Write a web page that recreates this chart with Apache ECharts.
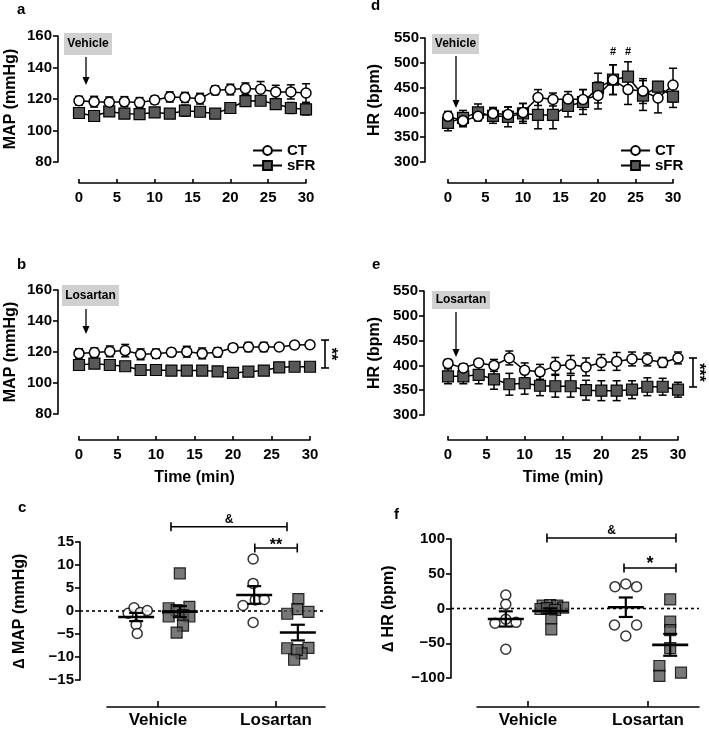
<!DOCTYPE html>
<html><head><meta charset="utf-8">
<script src="https://cdn.jsdelivr.net/npm/echarts@6/dist/echarts.min.js"></script>
<style>html,body{margin:0;padding:0;background:#fff}#c{width:709px;height:732px}</style>
</head><body><div id="c"></div>
<script>
const FONT = '"Liberation Sans", Arial, Helvetica, sans-serif';

// ---- time-course data (time in min) ----
const timeMin = [0,2,4,6,8,10,12,14,16,18,20,22,24,26,28,30];
// a: MAP, vehicle
const mapVehCT     = [118.9,118.3,117.9,118.3,117.7,119.4,121.3,121.0,120.2,125.5,126.0,126.6,126.2,124.5,124.5,123.8];
const mapVehCTsem  = [2.8,3.4,3.4,3.2,3.2,2.5,3.2,3.2,3.4,2.8,3.4,3.6,4.9,4.2,4.5,5.9];
const mapVehSFR    = [111.1,109.2,112.1,110.7,110.4,111.5,110.7,112.6,111.9,110.7,114.3,118.7,118.9,116.8,114.3,113.4];
const mapVehSFRsem = [1.5,1.5,1.5,2,2,2.5,2.5,3.5,3,1.5,1.5,3,3,3,3.5,3.5];
// b: MAP, losartan
const mapLosCT     = [119.1,119.6,120.4,120.9,118.5,118.9,119.8,120.2,119.1,119.8,122.8,123.2,123.2,123.2,124.5,124.7];
const mapLosCTsem  = [3,3,3.5,4,3.5,3,2.5,3.5,3.5,3,2.5,3,3,2,2,2];
const mapLosSFR    = [111.6,112.5,111.6,110.8,108.4,108.4,108.0,108.0,108.0,107.5,106.5,107.3,108.0,110.1,110.5,110.5];
const mapLosSFRsem = [1.5,1.5,1.5,1.5,1.5,1.5,1.5,1.5,1.5,1.5,1.5,1.5,1.5,1.5,1.5,1.5];
// d: HR, vehicle
const hrVehCT      = [392,383,392,398,396,400,430,426,427,426,434,466,446,443,429,455];
const hrVehCTsem   = [10,12,8,12,15,18,16,13,15,20,27,30,30,25,30,34];
const hrVehSFR     = [379,389,400,393,391,398,395,395,413,421,449,466,472,434,452,432];
const hrVehSFRsem  = [16,15,17,15,20,20,28,28,22,25,30,30,30,30,10,22];
// e: HR, losartan
const hrLosCT      = [404,395,405,400,415,390,387,399,402,397,406,408,413,412,406,415];
const hrLosCTsem   = [8,8,6,12,14,15,15,17,18,18,16,18,14,13,10,12];
const hrLosSFR     = [378,378,381,372,362,364,359,358,358,350,349,349,351,357,357,351];
const hrLosSFRsem  = [15,15,18,20,22,22,20,22,22,20,20,20,18,18,17,15];

// ---- change data (c: delta MAP mmHg, f: delta HR bpm) ----
const groups = ['Vehicle','Losartan'];
const dMapVehCT  = [-0.5,0.7,-0.3,0.1,-3.0,-4.9];
const dMapVehSFR = [8.2,0.6,0.2,0.9,-1.2,-0.9,-1.2,-3.2,-4.7];
const dMapLosCT  = [11.3,6.0,1.2,2.4,2.5,-2.5];
const dMapLosSFR = [2.6,0.4,-0.6,-0.2,-8.1,-8.0,-9.2,-8.5,-10.6];
const dHrVehCT   = [19.4,6.0,-21.3,-15.5,-19.9,-58.7];
const dHrVehSFR  = [4,5,4,1.2,-0.7,0.5,-2,-14,-30];
const dHrLosCT   = [31.4,35.3,31.4,-23.7,-23.7,-39.6];
const dHrLosSFR  = [13.2,-19,-31,-57,-82.7,-97,-92.4];
// horizontal spread slots of the dots (in marker widths)
const jMapVehCT  = [-0.75,-0.2,0.4,1.05,0,0.1];
const jMapVehSFR = [0,-1.05,-0.3,0.9,-1.05,0.3,0.9,0.3,-0.3];
const jMapLosCT  = [-0.1,-0.1,-1.05,0.1,0.95,-0.1];
const jMapLosSFR = [0.05,-0.05,-1.0,1.0,-1.0,1.0,0.35,-0.1,-0.35];
const jHrVehCT   = [0,0,-1.0,0,0.95,0];
const jHrVehSFR  = [-0.7,0,0.65,1.2,-0.9,-0.3,0.45,0.1,0.1];
const jHrLosCT   = [-1,0,1,-1.05,1,0];
const jHrLosSFR  = [0,0,0,0,-1,-1,1];

const SLOT = 0.09, GOFF = 0.185;
const BLACK = '#000', SQ = '#585858';

function mean(a){return a.reduce((s,v)=>s+v,0)/a.length;}
function sem(a){const m=mean(a);const v=a.reduce((s,x)=>s+(x-m)*(x-m),0)/(a.length-1);return Math.sqrt(v/a.length);}
const minus = v => String(v).replace('-', '\u2212');

const axisText = {color:BLACK, fontFamily:FONT, fontWeight:'bold', fontSize:15};
const nameText = {color:BLACK, fontFamily:FONT, fontWeight:'bold', fontSize:16};

function timeX(gi, off, name) {
  return {gridIndex:gi, type:'value', min:0, max:30, interval:5, offset:off,
    axisLine:{onZero:false, lineStyle:{color:BLACK, width:1.6}},
    axisTick:{inside:true, length:4, lineStyle:{color:BLACK, width:1.6}},
    axisLabel:Object.assign({margin:7, showMinLabel:true, showMaxLabel:true}, axisText),
    splitLine:{show:false},
    name:name||'', nameLocation:'middle', nameGap:30, nameTextStyle:nameText};
}
function valY(gi, off, min, max, interval, name, gap) {
  return {gridIndex:gi, type:'value', min, max, interval, offset:off,
    axisLine:{show:true, onZero:false, lineStyle:{color:BLACK, width:1.6}},
    axisTick:{show:true, inside:false, length:5, lineStyle:{color:BLACK, width:1.6}},
    axisLabel:Object.assign({margin:6, showMinLabel:true, showMaxLabel:true, formatter:minus}, axisText),
    splitLine:{show:false},
    name, nameLocation:'middle', nameGap:gap, nameTextStyle:nameText};
}
function groupX(gi, off, min, max) {
  return {gridIndex:gi, type:'value', min, max, offset:off,
    axisLine:{onZero:false, lineStyle:{color:BLACK, width:1.6}},
    axisTick:{inside:true, length:6, customValues:[1,2], lineStyle:{color:BLACK, width:1.6}},
    axisLabel:Object.assign({}, axisText, {fontSize:17, margin:5, customValues:[1,2],
      formatter: v => groups[Math.round(v)-1]}),
    splitLine:{show:false}};
}

function lineSeries(name, idx, vals, isCT) {
  return {name, type:'line', xAxisIndex:idx, yAxisIndex:idx, z:isCT?5:4,
    data: timeMin.map((t,i)=>[t, vals[i]]),
    symbol: isCT?'circle':'rect', symbolSize: isCT?10:11, showAllSymbol:true,
    itemStyle: isCT?{color:'#fff', borderColor:BLACK, borderWidth:1.5}
                   :{color:SQ, borderColor:BLACK, borderWidth:1.2},
    lineStyle:{color:BLACK, width:1.5}, emphasis:{disabled:true}};
}
function errSeries(idx, vals, sems) {
  return {type:'custom', xAxisIndex:idx, yAxisIndex:idx, z:2, silent:true,
    data: timeMin.map((t,i)=>[t, vals[i]-sems[i], vals[i]+sems[i]]),
    encode:{x:0, y:[1,2]},
    renderItem:(p, api)=>{
      const x = api.value(0);
      const lo = api.coord([x, api.value(1)]), hi = api.coord([x, api.value(2)]);
      const w = 4, st = {stroke:BLACK, lineWidth:1.5};
      return {type:'group', children:[
        {type:'line', shape:{x1:lo[0],y1:lo[1],x2:hi[0],y2:hi[1]}, style:st},
        {type:'line', shape:{x1:hi[0]-w,y1:hi[1],x2:hi[0]+w,y2:hi[1]}, style:st},
        {type:'line', shape:{x1:lo[0]-w,y1:lo[1],x2:lo[0]+w,y2:lo[1]}, style:st}]};
    }};
}
function dotSeries(name, idx, center, vals, jit, isCT) {
  return {name, type:'scatter', xAxisIndex:idx, yAxisIndex:idx, z:4,
    data: vals.map((v,i)=>[center + jit[i]*SLOT, v]),
    symbol: isCT?'circle':'rect', symbolSize: isCT?10:11,
    itemStyle: isCT?{color:'#fff', borderColor:BLACK, borderWidth:1.5}
                   :{color:SQ, borderColor:BLACK, borderWidth:1.2},
    emphasis:{disabled:true}};
}
function meanSeries(idx, centers, sets) {
  return {type:'custom', xAxisIndex:idx, yAxisIndex:idx, z:6, silent:true,
    data: sets.map((s,i)=>[centers[i], mean(s), sem(s)]),
    encode:{x:0, y:1},
    renderItem:(p, api)=>{
      const c = api.value(0), m = api.value(1), e = api.value(2);
      const pm = api.coord([c, m]), ph = api.coord([c, m+e]), pl = api.coord([c, m-e]);
      const st = {stroke:BLACK, lineWidth:2.2};
      return {type:'group', children:[
        {type:'line', shape:{x1:pm[0]-18,y1:pm[1],x2:pm[0]+18,y2:pm[1]}, style:{stroke:BLACK, lineWidth:2.6}},
        {type:'line', shape:{x1:pl[0],y1:pl[1],x2:ph[0],y2:ph[1]}, style:st},
        {type:'line', shape:{x1:ph[0]-7,y1:ph[1],x2:ph[0]+7,y2:ph[1]}, style:st},
        {type:'line', shape:{x1:pl[0]-7,y1:pl[1],x2:pl[0]+7,y2:pl[1]}, style:st}]};
    }};
}
function zeroSeries(idx, extendLeft) {
  return {type:'custom', xAxisIndex:idx, yAxisIndex:idx, z:3, silent:true,
    data:[[1,0]], encode:{x:0,y:1},
    renderItem:(p, api)=>{
      const cs = p.coordSys, y = api.coord([1,0])[1];
      return {type:'line', shape:{x1:cs.x-extendLeft, y1:y, x2:cs.x+cs.width, y2:y},
        style:{stroke:BLACK, lineWidth:1.6, lineDash:[3,3]}};
    }};
}
function hBracket(idx, x1, x2, y, label, fs, dy) {
  return {type:'custom', xAxisIndex:idx, yAxisIndex:idx, z:6, silent:true, clip:false,
    data:[[x1,x2,y]], encode:{x:[0,1], y:2},
    renderItem:(p, api)=>{
      const a = api.coord([api.value(0), api.value(2)]), b = api.coord([api.value(1), api.value(2)]);
      const st = {stroke:BLACK, lineWidth:1.6};
      return {type:'group', children:[
        {type:'line', shape:{x1:a[0],y1:a[1],x2:b[0],y2:b[1]}, style:st},
        {type:'line', shape:{x1:a[0],y1:a[1]-4.5,x2:a[0],y2:a[1]+4.5}, style:st},
        {type:'line', shape:{x1:b[0],y1:b[1]-4.5,x2:b[0],y2:b[1]+4.5}, style:st},
        {type:'text', x:(a[0]+b[0])/2, y:a[1]+dy, style:{text:label, fill:BLACK,
          font:'bold '+fs+'px '+FONT, align:'center', verticalAlign:'middle'}}]};
    }};
}
function vBracket(idx, x, y1, y2, label, dx) {
  return {type:'custom', xAxisIndex:idx, yAxisIndex:idx, z:6, silent:true, clip:false,
    data:[[x,y1,y2]], encode:{x:0, y:[1,2]},
    renderItem:(p, api)=>{
      const a = api.coord([api.value(0), api.value(1)]), b = api.coord([api.value(0), api.value(2)]);
      const X = a[0] + dx, st = {stroke:BLACK, lineWidth:1.6};
      return {type:'group', children:[
        {type:'line', shape:{x1:X,y1:a[1],x2:X,y2:b[1]}, style:st},
        {type:'line', shape:{x1:X-4,y1:a[1],x2:X+4,y2:a[1]}, style:st},
        {type:'line', shape:{x1:X-4,y1:b[1],x2:X+4,y2:b[1]}, style:st},
        {type:'text', x:X+5, y:(a[1]+b[1])/2, rotation:-Math.PI/2, style:{text:label, fill:BLACK,
          font:'bold 16px '+FONT, align:'center', verticalAlign:'middle'}}]};
    }};
}
function textMarks(idx, pts, label) {
  return {type:'custom', xAxisIndex:idx, yAxisIndex:idx, z:6, silent:true, clip:false,
    data:pts, encode:{x:0,y:1},
    renderItem:(p, api)=>{
      const c = api.coord([api.value(0), api.value(1)]);
      return {type:'text', x:c[0], y:c[1], style:{text:label, fill:BLACK,
        font:'bold 11px '+FONT, align:'center', verticalAlign:'middle'}};
    }};
}

// ---- annotations (letters, treatment boxes, arrows) ----
const graphics = [];
function letter(t, x, baseline) {
  graphics.push({type:'text', x, y:baseline-5, style:{text:t, fill:BLACK,
    font:'bold 15px '+FONT, align:'left', verticalAlign:'middle'}});
}
function box(t, x, y, w, h) {
  graphics.push({type:'rect', shape:{x, y, width:w, height:h}, style:{fill:'#d0d0d0'}});
  graphics.push({type:'text', x:x+w/2, y:y+h/2, style:{text:t, fill:BLACK,
    font:'bold 12px '+FONT, align:'center', verticalAlign:'middle'}});
}
function arrow(x, y1, y2) {
  graphics.push({type:'line', shape:{x1:x, y1:y1, x2:x, y2:y2-6}, style:{stroke:BLACK, lineWidth:1.3}});
  graphics.push({type:'polygon', shape:{points:[[x-3.5,y2-8],[x+3.5,y2-8],[x,y2]]}, style:{fill:BLACK}});
}
letter('a', 17, 15); letter('d', 371, 11); letter('b', 17, 270); letter('e', 372, 270);
letter('c', 18, 513); letter('f', 394, 520);
box('Vehicle', 64, 33, 48, 22); box('Vehicle', 432, 34, 47, 20);
box('Losartan', 62, 285, 57, 21); box('Losartan', 432, 291, 58, 18);
arrow(86, 57, 85); arrow(456, 56, 108); arrow(86, 309, 334); arrow(456, 312, 357);

const legendBase = {orient:'vertical', itemWidth:29, itemHeight:11, itemGap:0, selectedMode:false,
  textStyle:{color:BLACK, fontFamily:FONT, fontWeight:'bold', fontSize:15, lineHeight:15}, padding:0};

const option = {
  animation:false,
  textStyle:{fontFamily:FONT},
  graphic:graphics,
  legend:[Object.assign({data:['CT','sFR'], left:252, top:143}, legendBase),
          Object.assign({data:['CT','sFR'], left:620, top:143}, legendBase)],
  grid:[
    {left:79, top:36, width:227, height:126},   // a
    {left:448, top:38, width:225, height:124},  // d
    {left:79, top:290, width:231, height:124},  // b
    {left:448, top:291, width:230, height:124}, // e
    {left:107, top:542, width:218, height:138}, // c
    {left:477, top:539, width:222, height:139}  // f
  ],
  xAxis:[timeX(0,21), timeX(1,21), timeX(2,26,'Time (min)'), timeX(3,25,'Time (min)'),
         groupX(4,27,0.568,2.415), groupX(5,29,0.575,2.425)],
  yAxis:[valY(0,21,80,160,20,'MAP (mmHg)',39), valY(1,23,300,550,50,'HR (bpm)',42),
         valY(2,21,80,160,20,'MAP (mmHg)',39), valY(3,24,300,550,50,'HR (bpm)',41),
         valY(4,27,-15,15,5,'\u2206 MAP (mmHg)',52), valY(5,26,-100,100,50,'\u2206 HR (bpm)',54)],
  series:[
    lineSeries('CT',0,mapVehCT,true), lineSeries('sFR',0,mapVehSFR,false),
    errSeries(0,mapVehCT,mapVehCTsem), errSeries(0,mapVehSFR,mapVehSFRsem),
    lineSeries('CT',1,hrVehCT,true), lineSeries('sFR',1,hrVehSFR,false),
    errSeries(1,hrVehCT,hrVehCTsem), errSeries(1,hrVehSFR,hrVehSFRsem),
    textMarks(1, [[22,522],[24,522]], '#'),
    lineSeries('CT',2,mapLosCT,true), lineSeries('sFR',2,mapLosSFR,false),
    errSeries(2,mapLosCT,mapLosCTsem), errSeries(2,mapLosSFR,mapLosSFRsem),
    vBracket(2, 30, 127.7, 109.7, '**', 15),
    lineSeries('CT',3,hrLosCT,true), lineSeries('sFR',3,hrLosSFR,false),
    errSeries(3,hrLosCT,hrLosCTsem), errSeries(3,hrLosSFR,hrLosSFRsem),
    vBracket(3, 30, 415, 356.5, '***', 15),
    zeroSeries(4,27),
    dotSeries('c CT',4,1-GOFF,dMapVehCT,jMapVehCT,true), dotSeries('c sFR',4,1+GOFF,dMapVehSFR,jMapVehSFR,false),
    dotSeries('c CT',4,2-GOFF,dMapLosCT,jMapLosCT,true), dotSeries('c sFR',4,2+GOFF,dMapLosSFR,jMapLosSFR,false),
    meanSeries(4,[1-GOFF,1+GOFF,2-GOFF,2+GOFF],[dMapVehCT,dMapVehSFR,dMapLosCT,dMapLosSFR]),
    hBracket(4, 1.11, 2.093, 18.3, '&', 12, -7),
    hBracket(4, 1.82, 2.18, 13.7, '**', 16, -2.5),
    zeroSeries(5,26),
    dotSeries('f CT',5,1-GOFF,dHrVehCT,jHrVehCT,true), dotSeries('f sFR',5,1+GOFF,dHrVehSFR,jHrVehSFR,false),
    dotSeries('f CT',5,2-GOFF,dHrLosCT,jHrLosCT,true), dotSeries('f sFR',5,2+GOFF,dHrLosSFR,jHrLosSFR,false),
    meanSeries(5,[1-GOFF,1+GOFF,2-GOFF,2+GOFF],[dHrVehCT,dHrVehSFR,dHrLosCT,dHrLosSFR]),
    hBracket(5, 1.158, 2.233, 101.4, '&', 12, -7),
    hBracket(5, 1.8, 2.233, 58.3, '*', 18, -4)
  ]
};
const chart = echarts.init(document.getElementById('c'), null, {renderer:'canvas'});
chart.setOption(option);
</script></body></html>
